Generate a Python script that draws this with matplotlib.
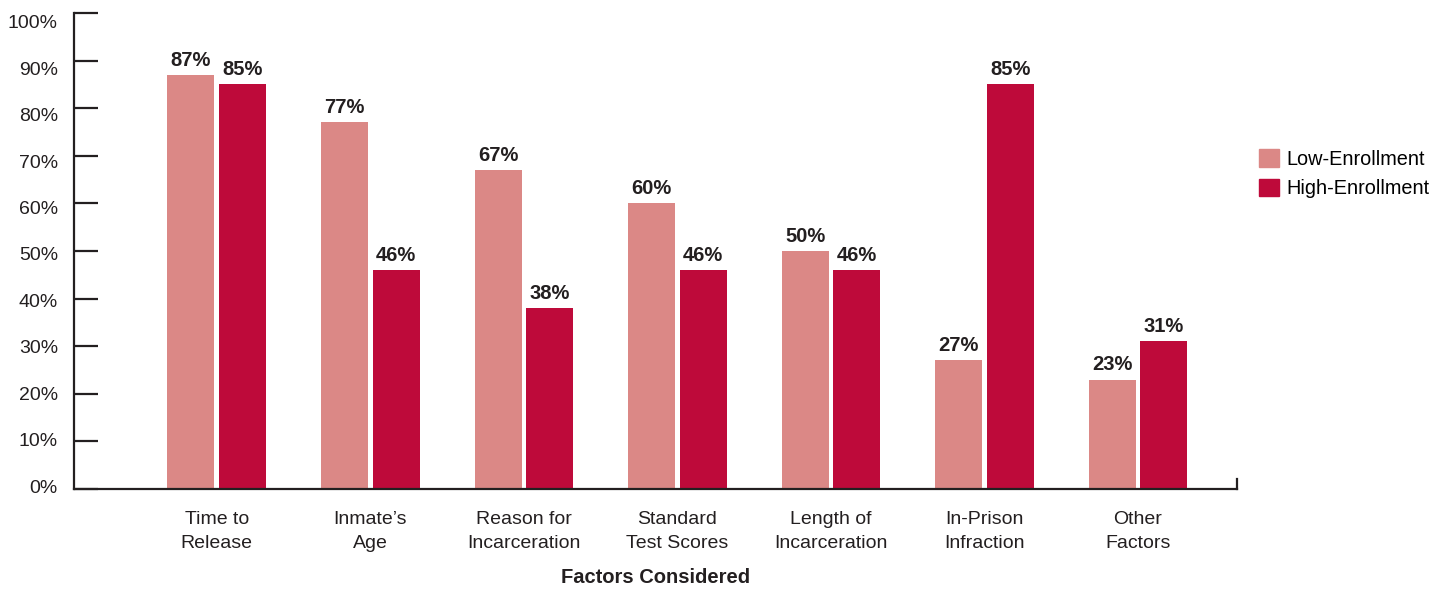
import matplotlib.pyplot as plt
import numpy as np
from matplotlib.patches import Patch

plt.rcParams['font.family'] = ['Liberation Sans', 'DejaVu Sans']

categories = ["Time to\nRelease", "Inmate\u2019s\nAge", "Reason for\nIncarceration",
              "Standard\nTest Scores", "Length of\nIncarceration", "In-Prison\nInfraction",
              "Other\nFactors"]
low_enroll = [87, 77, 67, 60, 50, 27, 23]
high_enroll = [85, 46, 38, 46, 46, 85, 31]
yticks = [0, 10, 20, 30, 40, 50, 60, 70, 80, 90, 100]

c_low = '#DB8886'
c_high = '#BE0A3A'
dark = '#231F20'

fig = plt.figure(figsize=(14.53, 5.89), dpi=100)
ax = fig.add_axes([0.0509, 0.1698, 0.8005, 0.8082])

x = np.arange(len(categories))
w = 0.306
gap = 0.015
b1 = ax.bar(x - w / 2 - gap, low_enroll, w, color=c_low)
b2 = ax.bar(x + w / 2 + gap, high_enroll, w, color=c_high)

for bars, vals in ((b1, low_enroll), (b2, high_enroll)):
    for r, v in zip(bars, vals):
        ax.text(r.get_x() + r.get_width() / 2, v + 1.1, f"{v}%", ha='center', va='bottom',
                fontsize=14.5, fontweight='bold', color=dark)

ax.set_xlim(-0.93, 6.645)
ax.set_ylim(0, 100)
ax.set_yticks(yticks)
ax.set_yticklabels([])
# labels in the original sit a little off their ticks, drifting lower toward the top
for t in yticks:
    ax.text(-0.0138, 0.975 * t + 0.2, f"{t}%", transform=ax.get_yaxis_transform(),
            ha='right', va='center', fontsize=14, color=dark)
ax.tick_params(axis='y', direction='in', length=17, width=1.6, color=dark)
ax.set_xticks(x)
ax.set_xticklabels(categories, fontsize=14, color=dark, linespacing=1.5)
ax.tick_params(axis='x', length=0, pad=16)

for s in ('top', 'right'):
    ax.spines[s].set_visible(False)
for s in ('left', 'bottom'):
    ax.spines[s].set_color(dark)
    ax.spines[s].set_linewidth(1.6)
ax.plot([1, 1], [0, 0.022], transform=ax.transAxes, color=dark, lw=1.6, clip_on=False)

ax.set_xlabel("Factors Considered", fontsize=14.5, fontweight='bold', color=dark, labelpad=12)

handles = [Patch(color=c_low), Patch(color=c_high)]
fig.legend(handles, ["Low-Enrollment", "High-Enrollment"], loc='center left',
           bbox_to_anchor=(0.854, 0.705), frameon=False, fontsize=14.3,
           handlelength=1.0, handleheight=1.0, handletextpad=0.4, labelspacing=0.5)

fig.savefig('out.png', dpi=100)
